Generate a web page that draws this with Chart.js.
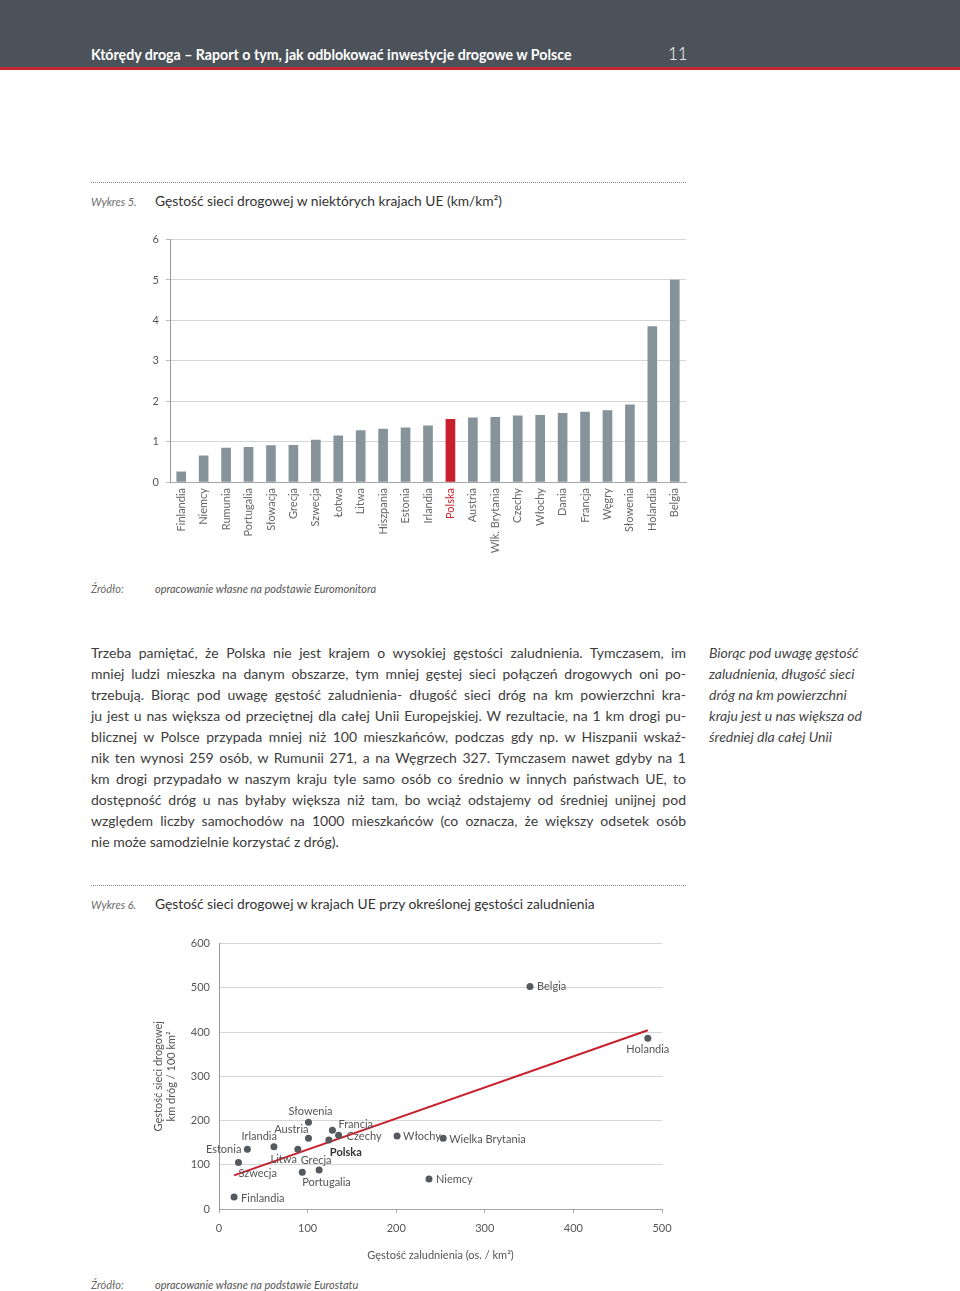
<!DOCTYPE html>
<html lang="pl">
<head>
<meta charset="utf-8">
<title>Którędy droga – Wykres 5 i 6</title>
<script src="https://cdn.jsdelivr.net/npm/chart.js@4/dist/chart.umd.min.js"></script>
<style>
  html, body { margin: 0; padding: 0; background: #fff; }
  body { width: 960px; height: 1291px; position: relative; overflow: hidden; font-family: Lato, "Open Sans", sans-serif; color: #3c3c3c; }
  .abs { position: absolute; white-space: nowrap; }
  .band { left: 0; top: 0; width: 960px; height: 67px; background: #4b5259; border-bottom: 3px solid #c3272f; }
  .hdr { left: 91px; top: 46px; font-size: 14.2px; font-weight: 700; color: #fff; }
  .pgno { left: 668px; top: 43px; font-size: 17px; font-weight: 300; color: #fff; }
  .dots { left: 91px; width: 595px; height: 0; border-top: 1px dotted #8a8a8a; }
  .wyk { left: 91px; font-size: 11px; font-style: italic; color: #6a6a6a; }
  .ttl { left: 155px; font-size: 13.8px; color: #333; }
  .src { left: 155px; font-size: 11px; font-style: italic; color: #555; }
  .body { left: 91px; top: 642px; width: 595px; font-size: 14px; line-height: 21px; color: #3c3c3c; }
  .body div { text-align: justify; text-align-last: justify; white-space: nowrap; }
  .body div.last { text-align-last: left; }
  .note { left: 709px; top: 642px; font-size: 14px; line-height: 21px; font-style: italic; color: #444; }
  canvas { position: absolute; }
</style>
</head>
<body>
<div class="abs band"></div>
<div class="abs hdr">Którędy droga – Raport o tym, jak odblokować inwestycje drogowe w Polsce</div>
<div class="abs pgno">11</div>

<div class="abs dots" style="top:182px"></div>
<div class="abs wyk" style="top:195px">Wykres 5.</div>
<div class="abs ttl" style="top:192px">Gęstość sieci drogowej w niektórych krajach UE (km/km²)</div>

<div style="position:absolute;left:140px;top:226px;width:560px;height:333px">
  <canvas id="barChart"></canvas>
</div>

<div class="abs wyk" style="top:582px">Źródło:</div>
<div class="abs src" style="top:582px">opracowanie własne na podstawie Euromonitora</div>

<div class="abs body">
  <div>Trzeba pamiętać, że Polska nie jest krajem o wysokiej gęstości zaludnienia. Tymczasem, im</div>
  <div>mniej ludzi mieszka na danym obszarze, tym mniej gęstej sieci połączeń drogowych oni po-</div>
  <div>trzebują. Biorąc pod uwagę gęstość zaludnienia- długość sieci dróg na km powierzchni kra-</div>
  <div>ju jest u nas większa od przeciętnej dla całej Unii Europejskiej. W rezultacie, na 1 km drogi pu-</div>
  <div>blicznej w Polsce przypada mniej niż 100 mieszkańców, podczas gdy np. w Hiszpanii wskaź-</div>
  <div>nik ten wynosi 259 osób, w Rumunii 271, a na Węgrzech 327. Tymczasem nawet gdyby na 1</div>
  <div>km drogi przypadało w naszym kraju tyle samo osób co średnio w innych państwach UE, to</div>
  <div>dostępność dróg u nas byłaby większa niż tam, bo wciąż odstajemy od średniej unijnej pod</div>
  <div>względem liczby samochodów na 1000 mieszkańców (co oznacza, że większy odsetek osób</div>
  <div class="last">nie może samodzielnie korzystać z dróg).</div>
</div>
<div class="abs note">Biorąc pod uwagę gęstość<br>zaludnienia, długość sieci<br>dróg na km powierzchni<br>kraju jest u nas większa od<br>średniej dla całej Unii</div>

<div class="abs dots" style="top:885px"></div>
<div class="abs wyk" style="top:898px">Wykres 6.</div>
<div class="abs ttl" style="top:895px">Gęstość sieci drogowej w krajach UE przy określonej gęstości zaludnienia</div>

<div style="position:absolute;left:140px;top:928px;width:560px;height:342px">
  <canvas id="scatterChart"></canvas>
</div>

<div class="abs wyk" style="top:1278px">Źródło:</div>
<div class="abs src" style="top:1278px">opracowanie własne na podstawie Eurostatu</div>

<script>
// Wykres 5 – gęstość sieci drogowej (km/km2)
const barCountries = ['Finlandia', 'Niemcy', 'Rumunia', 'Portugalia', 'Słowacja', 'Grecja', 'Szwecja', 'Łotwa',
  'Litwa', 'Hiszpania', 'Estonia', 'Irlandia', 'Polska', 'Austria', 'Wlk. Brytania', 'Czechy', 'Włochy',
  'Dania', 'Francja', 'Węgry', 'Słowenia', 'Holandia', 'Belgia'];
const barValues = [0.25, 0.65, 0.84, 0.86, 0.90, 0.91, 1.04, 1.14, 1.27, 1.31, 1.34, 1.39, 1.55, 1.59, 1.60,
  1.64, 1.65, 1.70, 1.73, 1.77, 1.91, 3.85, 5.0];
const barTicks = [0, 1, 2, 3, 4, 5, 6];

// Wykres 6 – gęstość sieci vs gęstość zaludnienia
const scatterCountries = ['Belgia', 'Holandia', 'Słowenia', 'Francja', 'Austria', 'Czechy', 'Polska', 'Irlandia',
  'Estonia', 'Litwa', 'Szwecja', 'Grecja', 'Portugalia', 'Finlandia', 'Włochy', 'Wielka Brytania', 'Niemcy'];
const popDensity = [351, 484, 101, 128, 101, 135, 124, 62, 32, 89, 22, 113, 94, 17, 201, 253, 237];
const roadDensity = [503, 386, 196, 178, 160, 167, 156, 141, 135, 135, 105, 88, 83, 27, 165, 160, 68];
const trendX = [17, 484];
const trendY = [76, 404];
const scatterXTicks = [0, 100, 200, 300, 400, 500];
const scatterYTicks = [0, 100, 200, 300, 400, 500, 600];

const FONT = 'Lato, "Open Sans", sans-serif';
const RED = '#c8202e';
const BAR_GREY = '#87939b';

Chart.defaults.font.family = FONT;
Chart.defaults.animation = false;

// wykres słupkowy
new Chart(document.getElementById('barChart'), {
  type: 'bar',
  data: {
    labels: barCountries,
    datasets: [{
      data: barValues,
      backgroundColor: barCountries.map(c => c === 'Polska' ? RED : BAR_GREY),
      barThickness: 9,
    }],
  },
  options: {
    responsive: true,
    maintainAspectRatio: false,
    layout: { padding: { top: 7, right: 14, left: 0, bottom: 0 } },
    plugins: { legend: { display: false }, tooltip: { enabled: false } },
    scales: {
      x: {
        grid: { display: false, drawTicks: false },
        border: { color: '#a5a5a5', width: 1 },
        ticks: {
          minRotation: 90, maxRotation: 90, padding: 6, autoSkip: false,
          font: { size: 11 },
          color: ctx => barCountries[ctx.index] === 'Polska' ? RED : '#666',
        },
        afterFit: s => { s.height = 77; },
      },
      y: {
        min: 0, max: 6,
        afterBuildTicks: s => { s.ticks = barTicks.map(v => ({ value: v })); },
        grid: { color: '#d6d6d6', tickLength: 4, tickColor: '#bbb' },
        border: { color: '#999', width: 1 },
        ticks: { padding: 7, font: { size: 11 }, color: '#555' },
        afterFit: s => { s.width = 30; },
      },
    },
  },
});

// etykiety punktów na wykresie punktowym
const labelPlace = {
  'Belgia': [7, 0, 'left'], 'Holandia': [0, 11, 'center'], 'Słowenia': [2, -11, 'center'],
  'Francja': [6, -6, 'left'], 'Austria': [0, -9, 'right'], 'Czechy': [8, 1, 'left'],
  'Polska': [1, 12, 'left'], 'Irlandia': [3, -10, 'right'], 'Estonia': [-6, 0, 'right'],
  'Litwa': [-1, 10, 'right'], 'Szwecja': [0, 11, 'left'], 'Grecja': [-3, -10, 'center'],
  'Portugalia': [0, 10, 'left'], 'Finlandia': [7, 1, 'left'], 'Włochy': [6, 0, 'left'],
  'Wielka Brytania': [6, 1, 'left'], 'Niemcy': [7, 1, 'left'],
};

const pointLabels = {
  id: 'pointLabels',
  afterDatasetsDraw(chart) {
    const ctx = chart.ctx;
    const meta = chart.getDatasetMeta(0);
    ctx.save();
    ctx.textBaseline = 'middle';
    meta.data.forEach((pt, i) => {
      const name = scatterCountries[i];
      const [dx, dy, align] = labelPlace[name];
      const bold = name === 'Polska';
      ctx.font = (bold ? '700 ' : '400 ') + '11px ' + FONT;
      ctx.fillStyle = bold ? '#333' : '#555';
      ctx.textAlign = align;
      ctx.fillText(name, pt.x + dx, pt.y + dy);
    });
    ctx.restore();
  },
};

new Chart(document.getElementById('scatterChart'), {
  type: 'scatter',
  data: {
    datasets: [
      {
        data: popDensity.map((x, i) => ({ x, y: roadDensity[i] })),
        backgroundColor: '#55595e',
        borderWidth: 0,
        pointRadius: 3.5,
      },
      {
        type: 'line',
        data: trendX.map((x, i) => ({ x, y: trendY[i] })),
        borderColor: RED,
        borderWidth: 2,
        pointRadius: 0,
        fill: false,
      },
    ],
  },
  options: {
    responsive: true,
    maintainAspectRatio: false,
    layout: { padding: { top: 11, right: 38, left: 0, bottom: 0 } },
    plugins: { legend: { display: false }, tooltip: { enabled: false } },
    scales: {
      x: {
        type: 'linear', min: 0, max: 500,
        afterBuildTicks: s => { s.ticks = scatterXTicks.map(v => ({ value: v })); },
        grid: { drawOnChartArea: false, tickLength: 4, color: '#aaa' },
        border: { color: '#a5a5a5', width: 1 },
        ticks: { padding: 9, font: { size: 11 }, color: '#555' },
        title: {
          display: true, text: 'Gęstość zaludnienia (os. / km²)',
          font: { size: 11 }, color: '#555', padding: { top: 0, bottom: 8 },
        },
        afterFit: s => { s.height = 61; },
      },
      y: {
        min: 0, max: 600,
        afterBuildTicks: s => { s.ticks = scatterYTicks.map(v => ({ value: v })); },
        grid: { color: '#d6d6d6', drawTicks: false },
        border: { color: '#999', width: 1 },
        ticks: { padding: 9, font: { size: 11 }, color: '#555' },
        title: {
          display: true, text: ['Gęstość sieci drogowej', 'km dróg / 100 km²'],
          font: { size: 11, lineHeight: 1.2 }, color: '#555', padding: { top: 12, bottom: 0 },
        },
        afterFit: s => { s.width = 79; },
      },
    },
  },
  plugins: [pointLabels],
});
</script>
</body>
</html>
